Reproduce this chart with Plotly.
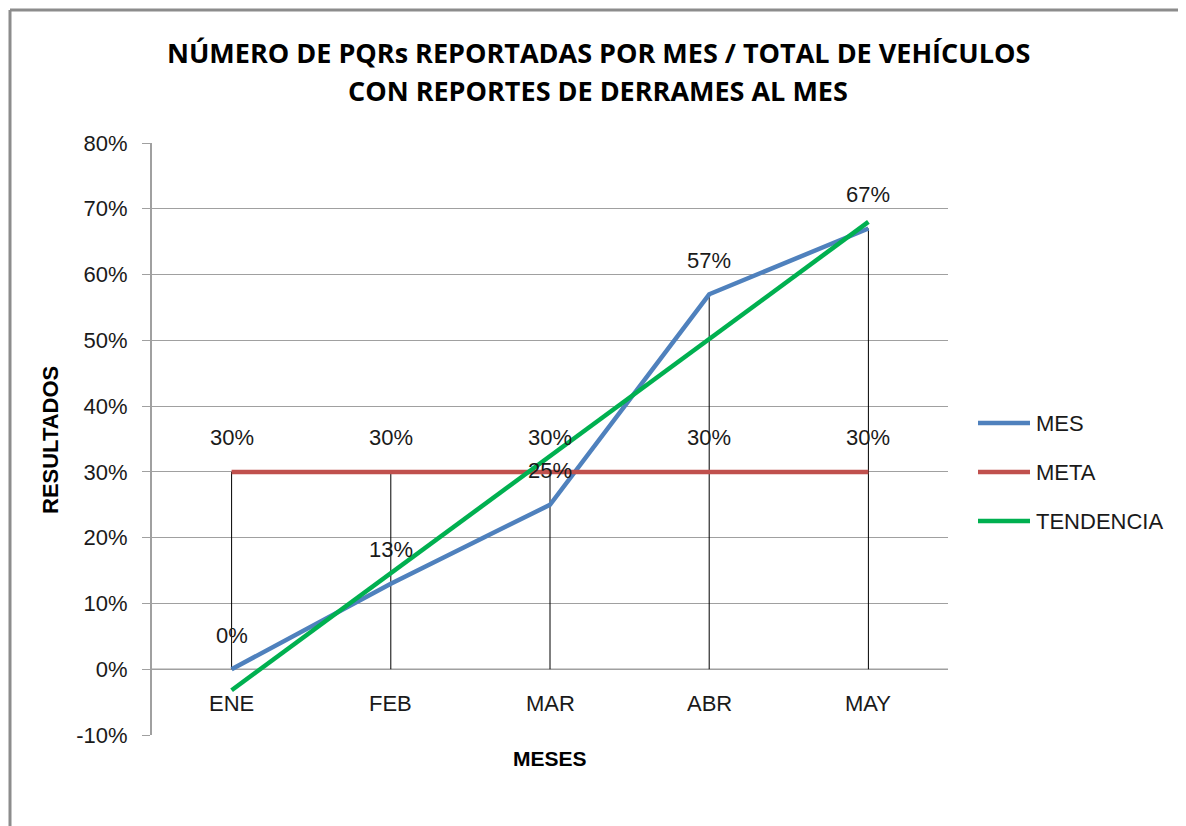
import plotly.graph_objects as go

meses = ["ENE", "FEB", "MAR", "ABR", "MAY"]
mes_vals = [0.00, 0.13, 0.25, 0.57, 0.67]
meta_vals = [0.30, 0.30, 0.30, 0.30, 0.30]
tendencia_vals = [-0.032, 0.146, 0.324, 0.502, 0.680]
y_ticks = [-0.1, 0.0, 0.1, 0.2, 0.3, 0.4, 0.5, 0.6, 0.7, 0.8]
y_tick_text = ["-10%", "0%", "10%", "20%", "30%", "40%", "50%", "60%", "70%", "80%"]
series_names = ["MES", "META", "TENDENCIA"]
series_colors = ["#4F81BD", "#C0504D", "#00B050"]

TXT = "Liberation Sans, Open Sans, sans-serif"
TITLEF = "Open Sans, Liberation Sans, sans-serif"
TXTC = "#1a1a1a"

# page offset (browser body margin)
OFF = 8
L, T, W, H = 152 - OFF, 143 - OFF, 796, 592


def px(sx):
    return (sx - 152) / W


def py(sy):
    return (735 - sy) / H


xi = list(range(len(meses)))

fig = go.Figure()

# drop lines
dx, dy = [], []
for i, (a, b) in enumerate(zip(mes_vals, meta_vals)):
    dx += [i, i, None]
    dy += [0, max(a, b), None]
fig.add_trace(go.Scatter(x=dx, y=dy, mode="lines", line=dict(color="black", width=1),
                         showlegend=False, hoverinfo="skip"))

for name, vals, col in zip(series_names, (mes_vals, meta_vals, tendencia_vals), series_colors):
    fig.add_trace(go.Scatter(x=xi, y=vals, mode="lines", name=name, showlegend=False,
                             line=dict(color=col, width=4.5)))

# custom legend (long line samples like the original)
for k, (name, col) in enumerate(zip(series_names, series_colors)):
    sy = 423 + 49 * k
    fig.add_shape(type="line", xref="paper", yref="paper",
                  x0=px(978), x1=px(1030), y0=py(sy), y1=py(sy),
                  line=dict(color=col, width=4.5))
    fig.add_annotation(x=px(1034), xref="paper", y=py(sy), yref="paper", text=name,
                       showarrow=False, xanchor="left", yanchor="middle",
                       font=dict(family=TXT, size=22, color=TXTC))

# data labels
for vals in (mes_vals, meta_vals):
    for i, v in enumerate(vals):
        fig.add_annotation(x=i, y=v, xref="x", yref="y", text=f"{round(v*100)}%",
                           showarrow=False, yanchor="middle", yshift=34,
                           font=dict(family=TXT, size=22, color=TXTC))

# category labels under the 0% line
for i, m in enumerate(meses):
    fig.add_annotation(x=i, y=0, xref="x", yref="y", text=m, showarrow=False,
                       yanchor="middle", yshift=-34,
                       font=dict(family=TXT, size=22, color=TXTC))

fig.add_annotation(x=px(550), xref="paper", y=py(758), yref="paper",
                   text="<b>MESES</b>", showarrow=False, yanchor="middle",
                   font=dict(family=TXT, size=21, color="black"))
fig.add_annotation(x=px(50), xref="paper", y=py(440), yref="paper",
                   text="<b>RESULTADOS</b>", showarrow=False, textangle=-90,
                   xanchor="center", yanchor="middle",
                   font=dict(family=TXT, size=22, color="black"))

# title lines
fig.add_annotation(x=px(598), xref="paper", y=py(52), yref="paper",
                   text="<b>NÚMERO DE PQRs REPORTADAS POR MES / TOTAL DE VEHÍCULOS</b>",
                   showarrow=False, yanchor="middle",
                   font=dict(family=TITLEF, size=27, color="black"))
fig.add_annotation(x=px(598), xref="paper", y=py(90), yref="paper",
                   text="<b>CON REPORTES DE DERRAMES AL MES</b>",
                   showarrow=False, yanchor="middle",
                   font=dict(family=TITLEF, size=27, color="black"))

# zero axis line
fig.add_shape(type="line", xref="paper", yref="y", x0=0, x1=1, y0=0, y1=0,
              line=dict(color="#A0A0A0", width=1.5), layer="below")

# chart border
fig.add_shape(type="line", xref="paper", yref="paper",
              x0=px(10), x1=px(10), y0=py(840), y1=py(10),
              line=dict(color="#8C8C8C", width=3))
fig.add_shape(type="line", xref="paper", yref="paper",
              x0=px(10), x1=px(1185), y0=py(10), y1=py(10),
              line=dict(color="#8C8C8C", width=3))
fig.add_shape(type="line", xref="paper", yref="paper",
              x0=px(1184), x1=px(1184), y0=py(840), y1=py(10),
              line=dict(color="#B0B0B0", width=1.5))

fig.update_layout(
    width=1186, height=826,
    margin=dict(l=L, r=1186 - L - W, t=T, b=826 - T - H),
    paper_bgcolor="white", plot_bgcolor="white",
    showlegend=False,
    xaxis=dict(range=[-0.5, 4.5], showticklabels=False, showgrid=False, zeroline=False,
               showline=False, fixedrange=True),
    yaxis=dict(range=[-0.1, 0.8], tickvals=y_ticks, ticktext=y_tick_text,
               showgrid=True, gridcolor="#A0A0A0", gridwidth=1.2,
               zeroline=False, showline=True, linecolor="#A0A0A0", linewidth=2,
               ticks="outside", ticklen=8, tickcolor="#A0A0A0", ticklabelstandoff=10,
               tickfont=dict(family=TXT, size=22, color=TXTC)),
)

fig.write_html("out.html")
